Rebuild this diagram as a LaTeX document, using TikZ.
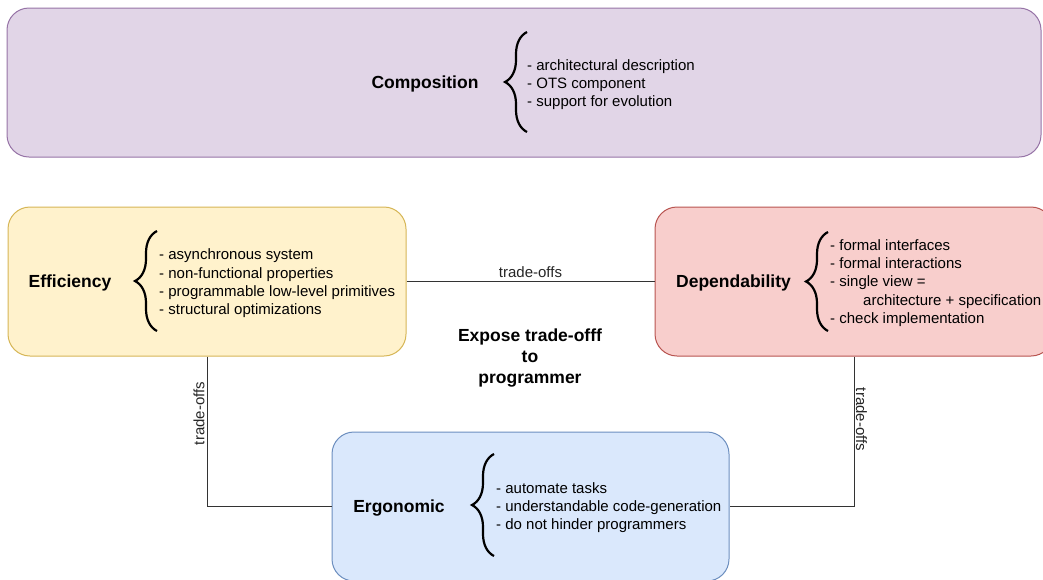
\documentclass[tikz,border=0pt]{standalone}
\usepackage{fontspec}
\setmainfont{Liberation Sans}
\usetikzlibrary{decorations.pathreplacing}
\definecolor{compfill}{HTML}{E1D5E7}
\definecolor{compdraw}{HTML}{9673A6}
\definecolor{efffill}{HTML}{FFF2CC}
\definecolor{effdraw}{HTML}{D6B656}
\definecolor{depfill}{HTML}{F8CECC}
\definecolor{depdraw}{HTML}{B85450}
\definecolor{ergfill}{HTML}{DAE8FC}
\definecolor{ergdraw}{HTML}{6C8EBF}
\definecolor{linecol}{HTML}{333333}
\begin{document}
\begin{tikzpicture}[x=1pt,y=-1pt,
  box/.style={rectangle, rounded corners=22pt, line width=1pt, inner sep=0pt, minimum height=149pt},
  titletext/.style={font=\fontsize{17.5}{21}\selectfont\bfseries, inner sep=0pt, align=center},
  items/.style={font=\fontsize{15}{18.3}\selectfont, inner sep=0pt, align=left, anchor=west},
  bracestyle/.style={decorate, decoration={brace, amplitude=22pt}, line width=2.2pt, black},
  conn/.style={line width=1pt, linecol},
  lbl/.style={font=\fontsize{15}{18}\selectfont, text=black!85}
]
\useasboundingbox (0,0) rectangle (1043,579);
\clip (0,0) rectangle (1043,579);

% boxes
\node[box, fill=compfill, draw=compdraw, minimum width=1034pt] (comp) at (524,82.5) {};
\node[box, fill=efffill, draw=effdraw, minimum width=398pt] (eff) at (207,281.5) {};
\node[box, fill=depfill, draw=depdraw, minimum width=398pt] (dep) at (854,281.5) {};
\node[box, fill=ergfill, draw=ergdraw, minimum width=397pt] (erg) at (530.5,506.5) {};

% titles
\node[titletext] (comptitle) at (425,84) {Composition};
\node[titletext] (efftitle) at (70,283) {Efficiency};
\node[titletext] (deptitle) at (733.5,283) {Dependability};
\node[titletext] (ergtitle) at (399,508) {Ergonomic};

% braces
\coordinate (cb1) at (527,132); \coordinate (cb2) at (527,32);
\draw[bracestyle] (cb1) -- (cb2);
\coordinate (eb1) at (157,331); \coordinate (eb2) at (157,231);
\draw[bracestyle] (eb1) -- (eb2);
\coordinate (db1) at (828,331); \coordinate (db2) at (828,232);
\draw[bracestyle] (db1) -- (db2);
\coordinate (gb1) at (494,556); \coordinate (gb2) at (494,454);
\draw[bracestyle] (gb1) -- (gb2);

% item lists
\node[items] (compitems) at (527,84.5) {- architectural description\\- OTS component\\- support for evolution};
\node[items] (effitems) at (159,283.5) {- asynchronous system\\- non-functional properties\\- programmable low-level primitives\\- structural optimizations};
\node[items] (depitems) at (830,283) {- formal interfaces\\- formal interactions\\- single view =\\\hspace*{33pt}architecture + specification\\- check implementation};
\node[items] (ergitems) at (496,507.5) {- automate tasks\\- understandable code-generation\\- do not hinder programmers};

% connectors
\draw[conn] (eff.east) -- node[lbl, above, inner sep=3pt] {trade-offs} (dep.west);
\draw[conn] (eff.south) |- node[lbl, pos=0.19, rotate=90, anchor=south, inner sep=2pt] {trade-offs} (erg.west);
\draw[conn] (dep.south) |- node[lbl, pos=0.21, rotate=-90, anchor=south, fill=white, inner sep=1.5pt] {trade-offs} (erg.east);

% central note
\node[titletext] (note) at (530,358) {Expose trade-offf\\to\\programmer};
\end{tikzpicture}
\end{document}
